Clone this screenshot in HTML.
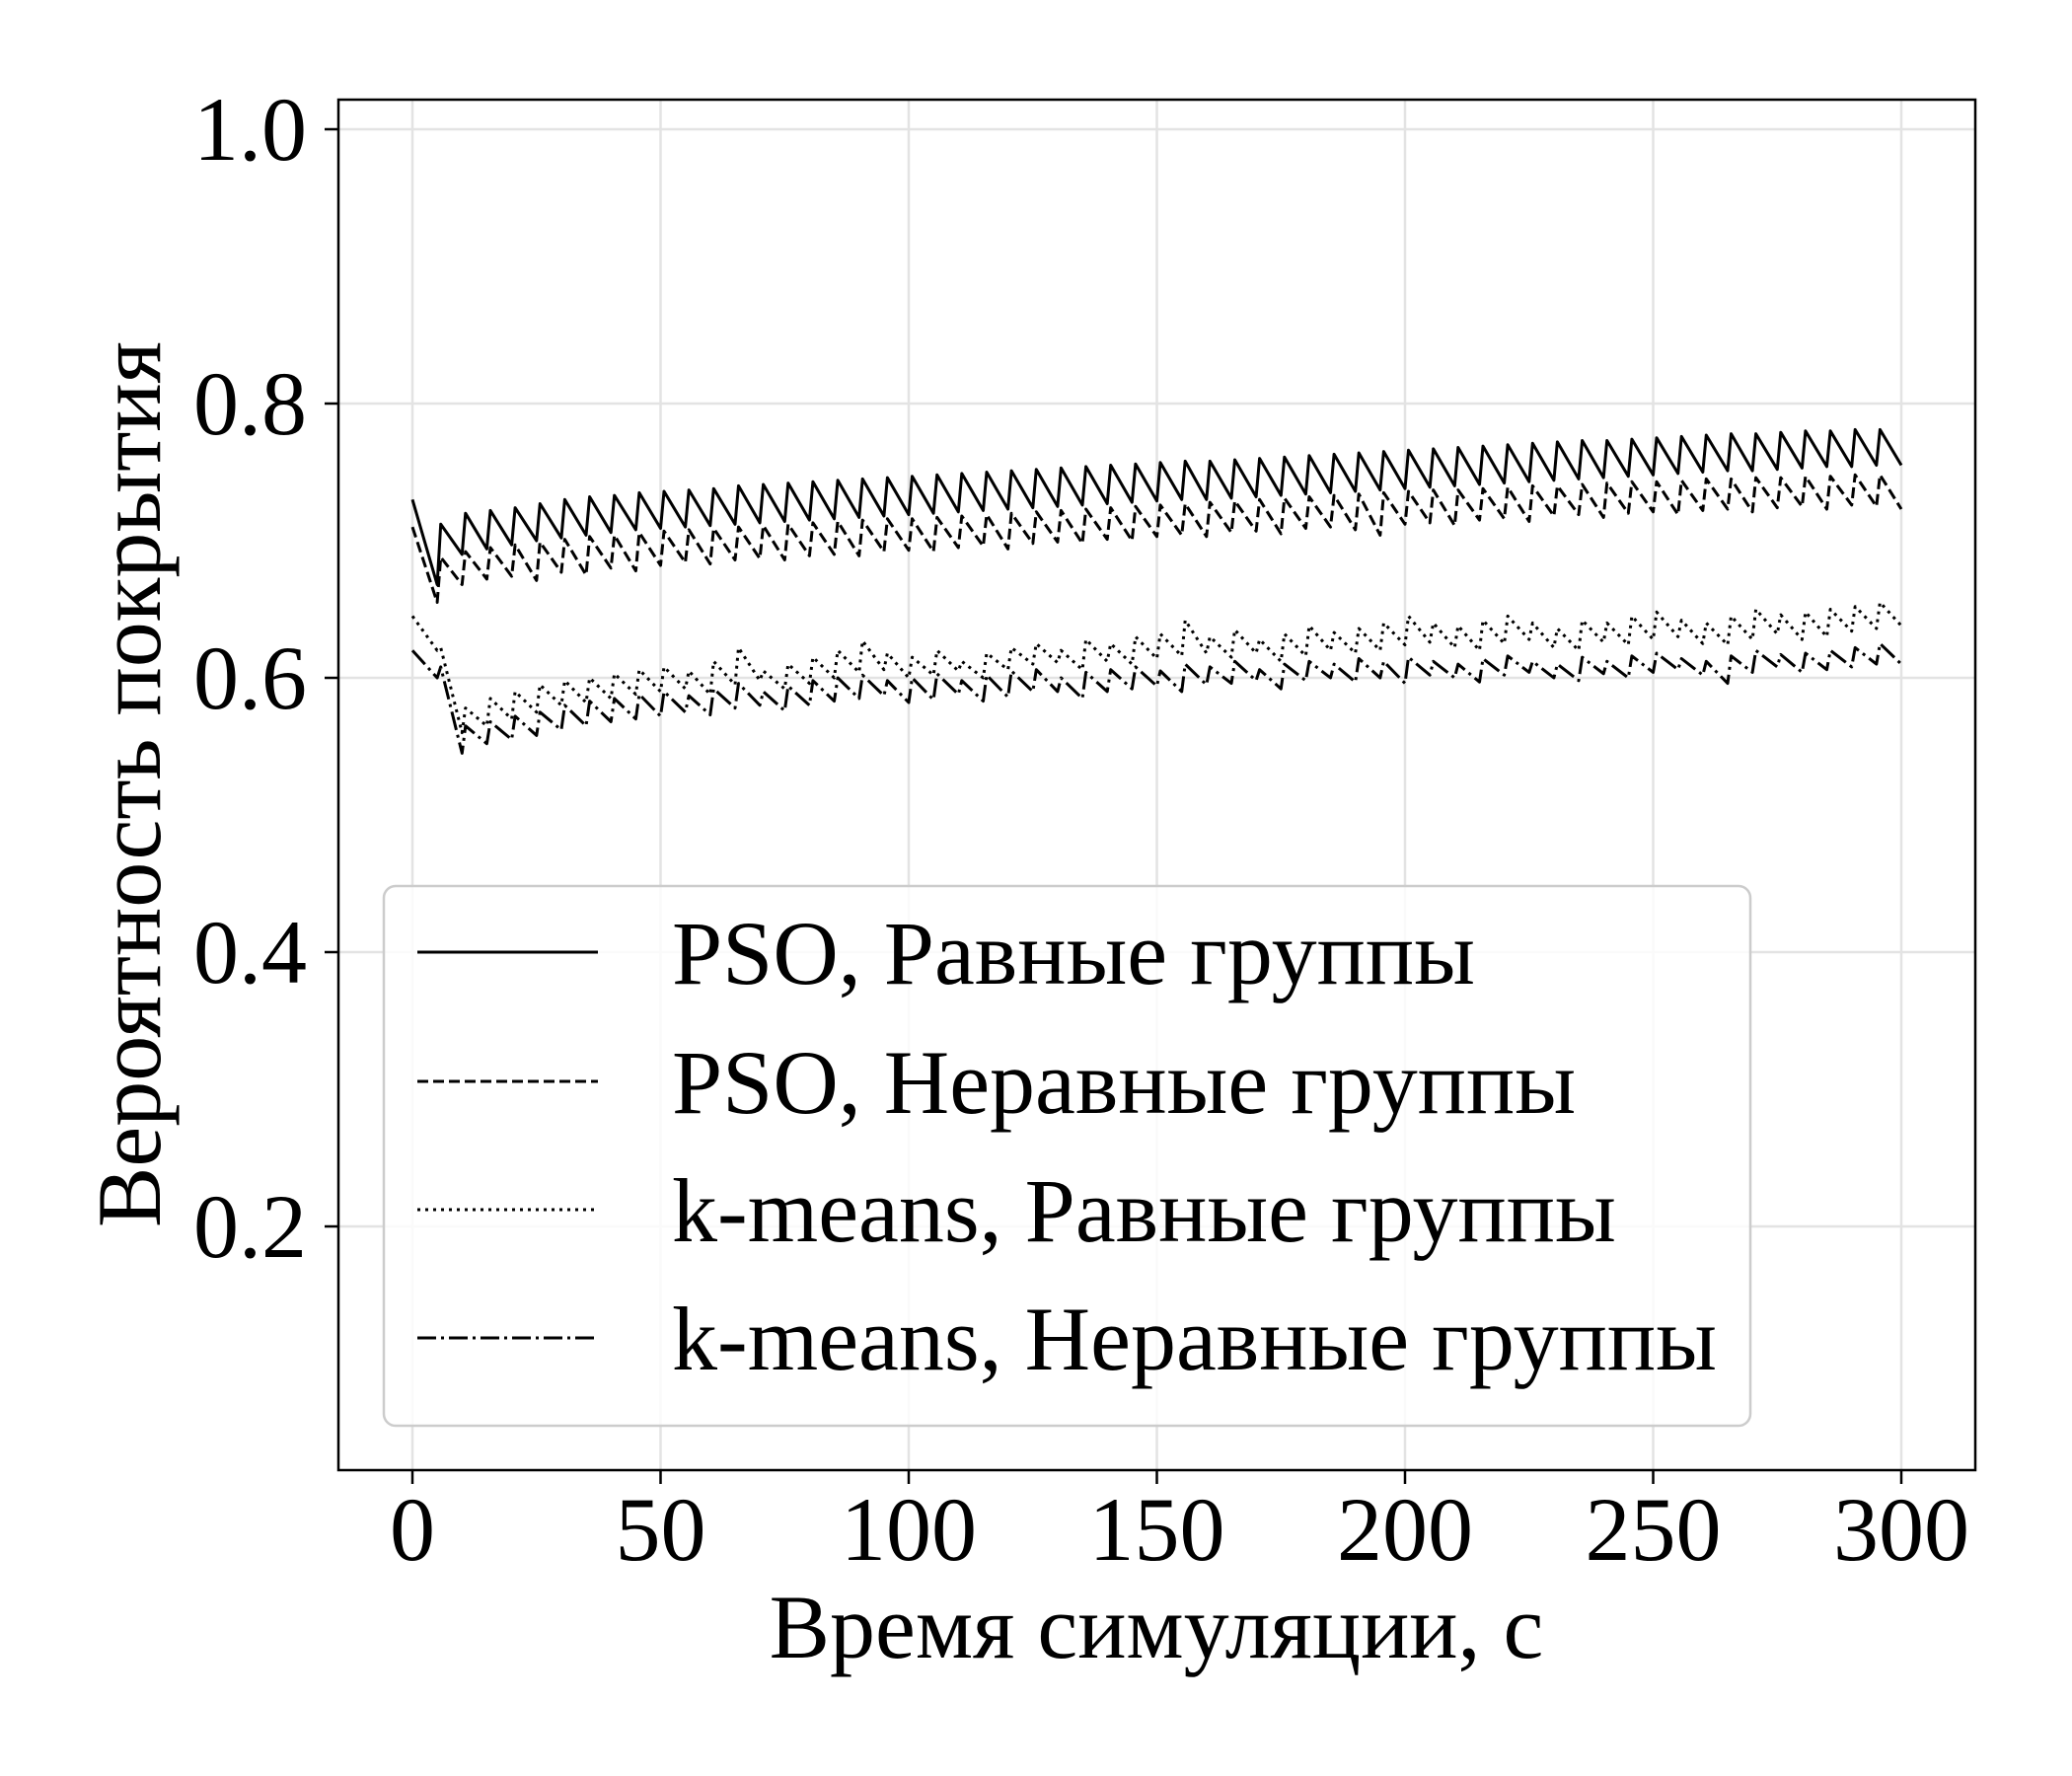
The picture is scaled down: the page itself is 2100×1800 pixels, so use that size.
<!DOCTYPE html>
<html><head><meta charset="utf-8"><style>
html,body{margin:0;padding:0;background:#fff}
svg{display:block;font-family:"Liberation Serif",serif}
</style></head><body>
<svg id="chart" width="2100" height="1800" viewBox="0 0 2100 1800">
<rect x="0" y="0" width="2100" height="1800" fill="#fff"/>
<g id="grid"></g>
<g id="series"></g>
<rect x="343" y="101" width="1659" height="1389" fill="none" stroke="#000" stroke-width="2.5"/>
<g id="ticks"></g>
<text x="1172" y="1680" font-size="92" text-anchor="middle">Время симуляции, с</text>
<text transform="translate(162,795) rotate(-90)" font-size="92" text-anchor="middle">Вероятность покрытия</text>
<g>
<rect x="389" y="898" width="1385" height="547" rx="12" fill="#fff" fill-opacity="0.8" stroke="#ccc" stroke-width="2.5"/>
<g><line x1="423" x2="606" y1="965" y2="965" stroke="#000" stroke-width="3"/><text x="681" y="997" font-size="92">PSO, Равные группы</text></g>
<g><line x1="423" x2="606" y1="1096" y2="1096" stroke="#000" stroke-width="3" stroke-dasharray="11,5"/><text x="681" y="1128" font-size="92">PSO, Неравные группы</text></g>
<g><line x1="423" x2="606" y1="1226" y2="1226" stroke="#000" stroke-width="3" stroke-dasharray="3,5"/><text x="681" y="1258" font-size="92">k-means, Равные группы</text></g>
<g><line x1="423" x2="606" y1="1356" y2="1356" stroke="#000" stroke-width="3" stroke-dasharray="19,5,3,5"/><text x="681" y="1388" font-size="92">k-means, Неравные группы</text></g>
</g>
</svg>
<script>
const xTicks=[0,50,100,150,200,250,300];
const yTicks=[0.2,0.4,0.6,0.8,1.0];
const yTickLabels=["0.2","0.4","0.6","0.8","1.0"];
const psoEqPeak=[0.730,0.712,0.720,0.722,0.724,0.727,0.730,0.732,0.733,0.735,
0.736,0.737,0.738,0.740,0.741,0.742,0.743,0.744,0.745,0.746,
0.747,0.748,0.749,0.750,0.751,0.752,0.753,0.754,0.755,0.756,
0.757,0.758,0.758,0.759,0.760,0.761,0.762,0.763,0.764,0.765,
0.766,0.767,0.768,0.769,0.770,0.771,0.772,0.773,0.773,0.774,
0.775,0.776,0.777,0.778,0.778,0.779,0.780,0.780,0.781,0.781];
const psoEqTrough=[0.668,0.690,0.694,0.697,0.700,0.702,0.704,0.706,0.708,0.709,
0.710,0.711,0.712,0.713,0.714,0.715,0.716,0.717,0.718,0.719,
0.720,0.721,0.722,0.723,0.724,0.725,0.726,0.727,0.728,0.729,
0.730,0.730,0.731,0.732,0.733,0.734,0.735,0.736,0.737,0.738,
0.739,0.740,0.741,0.742,0.743,0.744,0.745,0.746,0.747,0.748,
0.749,0.750,0.751,0.751,0.752,0.753,0.754,0.754,0.755,0.755];
const psoUnPeak=[0.710,0.688,0.692,0.695,0.697,0.699,0.701,0.703,0.704,0.706,
0.707,0.708,0.709,0.710,0.711,0.712,0.713,0.714,0.715,0.716,
0.716,0.717,0.718,0.719,0.720,0.721,0.722,0.723,0.724,0.725,
0.726,0.727,0.728,0.729,0.730,0.731,0.732,0.733,0.734,0.735,
0.736,0.737,0.737,0.738,0.739,0.740,0.740,0.741,0.742,0.743,
0.743,0.744,0.745,0.745,0.746,0.746,0.747,0.747,0.748,0.748];
const psoUnTrough=[0.655,0.668,0.672,0.674,0.671,0.677,0.675,0.680,0.678,0.682,
0.684,0.683,0.686,0.687,0.686,0.689,0.690,0.689,0.692,0.693,
0.692,0.695,0.696,0.694,0.698,0.699,0.698,0.701,0.700,0.703,
0.704,0.703,0.706,0.707,0.705,0.709,0.710,0.708,0.704,0.712,
0.713,0.711,0.715,0.716,0.714,0.718,0.719,0.717,0.720,0.721,
0.719,0.722,0.723,0.721,0.724,0.725,0.723,0.726,0.725,0.723];
const kmEqPeak=[0.645,0.622,0.578,0.585,0.590,0.595,0.598,0.600,0.603,0.606,
0.608,0.605,0.612,0.622,0.605,0.610,0.615,0.620,0.627,0.618,
0.615,0.620,0.612,0.618,0.622,0.625,0.620,0.628,0.625,0.630,
0.632,0.642,0.630,0.635,0.628,0.632,0.638,0.633,0.636,0.640,
0.645,0.640,0.638,0.642,0.645,0.640,0.636,0.642,0.640,0.645,
0.648,0.642,0.640,0.645,0.650,0.646,0.648,0.650,0.652,0.655];
const kmEqTrough=[0.620,0.560,0.565,0.570,0.575,0.580,0.582,0.585,0.588,0.590,
0.592,0.588,0.595,0.598,0.592,0.596,0.600,0.604,0.606,0.600,
0.602,0.605,0.600,0.606,0.610,0.611,0.606,0.612,0.610,0.614,
0.616,0.618,0.615,0.618,0.612,0.616,0.620,0.618,0.620,0.624,
0.626,0.622,0.620,0.625,0.628,0.622,0.620,0.626,0.624,0.628,
0.630,0.625,0.624,0.628,0.632,0.628,0.630,0.634,0.636,0.638];
const kmUnPeak=[0.620,0.608,0.565,0.568,0.572,0.575,0.580,0.583,0.585,0.588,
0.590,0.587,0.592,0.596,0.590,0.594,0.598,0.600,0.602,0.598,
0.600,0.603,0.598,0.602,0.605,0.606,0.600,0.604,0.606,0.608,
0.605,0.610,0.608,0.612,0.606,0.610,0.612,0.610,0.614,0.612,
0.615,0.612,0.610,0.614,0.616,0.612,0.610,0.615,0.612,0.616,
0.618,0.614,0.612,0.616,0.620,0.617,0.618,0.620,0.622,0.625];
const kmUnTrough=[0.600,0.545,0.552,0.555,0.558,0.562,0.565,0.568,0.570,0.572,
0.575,0.573,0.578,0.580,0.576,0.580,0.583,0.585,0.587,0.582,
0.584,0.588,0.583,0.586,0.590,0.590,0.585,0.590,0.592,0.594,
0.590,0.595,0.596,0.598,0.592,0.598,0.600,0.597,0.600,0.596,
0.602,0.600,0.597,0.602,0.604,0.600,0.598,0.603,0.600,0.604,
0.606,0.602,0.596,0.604,0.608,0.604,0.606,0.608,0.610,0.610];
const cyclePeriod=5;

const NS="http://www.w3.org/2000/svg";
const X0=418,X1=1927,Y0v=0.6,Y0p=687,YPer=278/0.2;
function xs(v){return X0+(X1-X0)*v/300;}
function ys(v){return Y0p-(v-Y0v)*YPer;}
const grid=document.getElementById('grid'),ticks=document.getElementById('ticks'),ser=document.getElementById('series');
xTicks.forEach(t=>{
  const g=document.createElementNS(NS,'line');
  
  
  g.setAttribute('x1',xs(t));g.setAttribute('x2',xs(t));g.setAttribute('y1',101);g.setAttribute('y2',1490);
  g.setAttribute('stroke','#e3e3e3');g.setAttribute('stroke-width','2.5');grid.appendChild(g);
  const tk=document.createElementNS(NS,'line');
  
  
  tk.setAttribute('x1',xs(t));tk.setAttribute('x2',xs(t));tk.setAttribute('y1',1490);tk.setAttribute('y2',1504);
  tk.setAttribute('stroke','#000');tk.setAttribute('stroke-width','2.5');ticks.appendChild(tk);
  const tx=document.createElementNS(NS,'text');
  
  
  tx.setAttribute('x',xs(t));tx.setAttribute('y',1581);tx.setAttribute('font-size','92');tx.setAttribute('text-anchor','middle');
  tx.textContent=String(t);ticks.appendChild(tx);
});
yTicks.forEach((t,i)=>{
  const g=document.createElementNS(NS,'line');
  
  
  g.setAttribute('x1',343);g.setAttribute('x2',2002);g.setAttribute('y1',ys(t));g.setAttribute('y2',ys(t));
  g.setAttribute('stroke','#e3e3e3');g.setAttribute('stroke-width','2.5');grid.appendChild(g);
  const tk=document.createElementNS(NS,'line');
  
  
  tk.setAttribute('x1',329);tk.setAttribute('x2',343);tk.setAttribute('y1',ys(t));tk.setAttribute('y2',ys(t));
  tk.setAttribute('stroke','#000');tk.setAttribute('stroke-width','2.5');ticks.appendChild(tk);
  const tx=document.createElementNS(NS,'text');
  
  
  tx.setAttribute('x',311);tx.setAttribute('y',ys(t)+31);tx.setAttribute('font-size','92');tx.setAttribute('text-anchor','end');
  tx.textContent=yTickLabels[i];ticks.appendChild(tx);
});
function drawSeries(peaks,troughs,dash,name){
  let d='';
  for(let k=0;k<peaks.length;k++){
    const tp=k*cyclePeriod+(k===0?0:0.7), tt=(k+1)*cyclePeriod;
    d+=(k===0?'M':'L')+xs(tp).toFixed(1)+','+ys(peaks[k]).toFixed(1)+'L'+xs(tt).toFixed(1)+','+ys(troughs[k]).toFixed(1);
  }
  const p=document.createElementNS(NS,'path');
  
  
  p.setAttribute('d',d);p.setAttribute('fill','none');p.setAttribute('stroke','#000');p.setAttribute('stroke-width','3');
  p.setAttribute('stroke-linejoin','round');
  if(dash)p.setAttribute('stroke-dasharray',dash);
  ser.appendChild(p);
}
drawSeries(psoEqPeak,psoEqTrough,null,'pso-equal-line');
drawSeries(psoUnPeak,psoUnTrough,'11,5','pso-unequal-line');
drawSeries(kmEqPeak,kmEqTrough,'3,5','kmeans-equal-line');
drawSeries(kmUnPeak,kmUnTrough,'19,5,3,5','kmeans-unequal-line');
</script>
</body></html>
